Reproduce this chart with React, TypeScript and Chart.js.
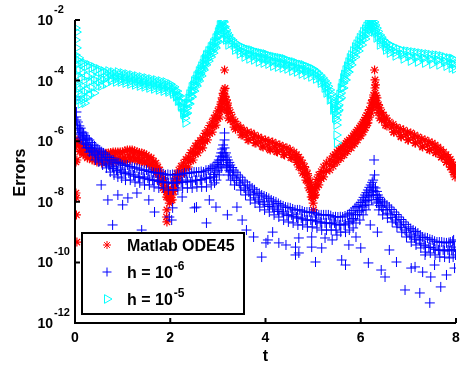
import React, { useEffect, useRef } from "react";
import { Chart, registerables } from "chart.js";

Chart.register(...registerables);

// ---------- data (t, error) ----------
const odePoints: [number, number][] = [
  [0.02, 1.1e-6], [0.03, 7.5e-7], [0.04, 2.4e-7], [0.02, 2.06e-7], [0.02, 1.95e-8], [0.03, 1.34e-8], [0.03, 3.7e-9], [0.04, 4.7e-10],
  [0.06, 1.1e-6], [0.09, 7.5e-7], [0.12, 5.1e-7],
  [0.12, 8.7e-7], [0.15, 6.0e-7], [0.18, 4.1e-7],
  [0.20, 6.0e-7], [0.23, 4.1e-7], [0.26, 2.8e-7],
  [0.30, 5.1e-7], [0.33, 3.5e-7], [0.36, 2.4e-7],
  [0.40, 4.4e-7], [0.43, 3.0e-7], [0.46, 2.06e-7],
  [0.50, 4.1e-7], [0.53, 2.8e-7], [0.56, 1.91e-7],
  [0.60, 4.1e-7], [0.63, 2.8e-7], [0.66, 1.91e-7],
  [0.70, 4.1e-7], [0.73, 2.8e-7], [0.76, 1.91e-7],
  [0.80, 4.4e-7], [0.83, 3.0e-7], [0.86, 2.06e-7],
  [0.90, 4.4e-7], [0.93, 3.0e-7], [0.96, 2.06e-7],
  [1.00, 4.4e-7], [1.03, 3.0e-7], [1.06, 2.06e-7],
  [1.10, 5.1e-7], [1.13, 3.5e-7], [1.16, 2.4e-7],
  [1.20, 5.1e-7], [1.23, 3.5e-7], [1.26, 2.4e-7],
  [1.30, 4.4e-7], [1.33, 3.0e-7], [1.36, 2.06e-7],
  [1.40, 4.1e-7], [1.43, 2.8e-7], [1.46, 1.91e-7],
  [1.50, 3.5e-7], [1.53, 2.4e-7], [1.56, 1.64e-7],
  [1.60, 2.8e-7], [1.63, 1.91e-7], [1.66, 1.31e-7],
  [1.70, 1.91e-7], [1.72, 1.31e-7], [1.74, 8.9e-8],
  [1.78, 1.12e-7], [1.78, 7.7e-8], [1.78, 5.2e-8],
  [1.85, 6.1e-8], [1.85, 4.2e-8], [1.85, 2.86e-8],
  [1.92, 3.1e-8], [1.92, 2.1e-8], [1.92, 1.44e-8],
  [1.98, 1.95e-8], [1.98, 1.34e-8], [1.98, 9.1e-9],
  [1.93, 5.4e-9], [1.92, 3.15e-9], [1.93, 2.16e-9],
  [2.04, 2.45e-8], [2.04, 1.68e-8], [2.04, 1.15e-8],
  [2.10, 6.1e-8], [2.10, 4.2e-8], [2.10, 2.86e-8],
  [2.18, 1.12e-7], [2.18, 7.7e-8], [2.18, 5.2e-8],
  [2.28, 1.91e-7], [2.28, 1.31e-7], [2.28, 8.9e-8],
  [2.38, 3.0e-7], [2.38, 2.06e-7], [2.38, 1.41e-7],
  [2.48, 5.1e-7], [2.48, 3.5e-7], [2.48, 2.4e-7],
  [2.58, 8.7e-7], [2.58, 6.0e-7], [2.58, 4.1e-7],
  [2.68, 1.28e-6], [2.68, 8.7e-7], [2.68, 6.0e-7],
  [2.78, 2.34e-6], [2.78, 1.6e-6], [2.78, 1.1e-6],
  [2.88, 4.3e-6], [2.88, 2.9e-6], [2.88, 2.0e-6],
  [2.96, 7.3e-6], [2.96, 5.0e-6], [2.96, 3.4e-6],
  [3.04, 1.35e-5], [3.04, 9.2e-6], [3.04, 6.3e-6],
  [3.09, 2.7e-5], [3.09, 1.8e-5], [3.09, 1.25e-5],
  [3.13, 4.9e-5], [3.13, 3.35e-5], [3.13, 2.3e-5],
  [3.14, 2.24e-4],
  [3.18, 2.3e-5], [3.18, 1.57e-5], [3.18, 1.07e-5],
  [3.22, 1.25e-5], [3.22, 8.5e-6], [3.22, 5.8e-6],
  [3.30, 6.3e-6], [3.32, 4.3e-6], [3.34, 2.9e-6],
  [3.42, 3.4e-6], [3.47, 2.34e-6], [3.52, 1.6e-6],
  [3.55, 2.34e-6], [3.60, 1.6e-6], [3.65, 1.1e-6],
  [3.70, 1.87e-6], [3.75, 1.28e-6], [3.80, 8.7e-7],
  [3.85, 1.38e-6], [3.90, 9.4e-7], [3.95, 6.4e-7],
  [4.00, 1.1e-6], [4.05, 7.5e-7], [4.10, 5.1e-7],
  [4.15, 9.4e-7], [4.20, 6.4e-7], [4.25, 4.4e-7],
  [4.30, 7.5e-7], [4.35, 5.1e-7], [4.40, 3.5e-7],
  [4.45, 6.0e-7], [4.50, 4.1e-7], [4.55, 2.8e-7],
  [4.60, 4.4e-7], [4.63, 3.0e-7], [4.66, 2.06e-7],
  [4.70, 3.0e-7], [4.70, 2.06e-7], [4.70, 1.41e-7],
  [4.78, 1.91e-7], [4.78, 1.31e-7], [4.78, 8.9e-8],
  [4.85, 1.12e-7], [4.85, 7.7e-8], [4.85, 5.2e-8],
  [4.91, 6.1e-8], [4.91, 4.2e-8], [4.91, 2.86e-8],
  [4.96, 3.1e-8], [4.96, 2.1e-8], [4.96, 1.44e-8],
  [5.00, 1.95e-8], [5.00, 1.34e-8], [5.00, 9.1e-9],
  [5.01, 5.4e-9],
  [5.05, 3.6e-8], [5.05, 2.45e-8], [5.05, 1.68e-8],
  [5.12, 7.7e-8], [5.12, 5.2e-8], [5.12, 3.6e-8],
  [5.22, 1.41e-7], [5.22, 9.6e-8], [5.22, 6.6e-8],
  [5.35, 2.4e-7], [5.35, 1.64e-7], [5.35, 1.12e-7],
  [5.42, 3.2e-7], [5.42, 2.2e-7], [5.42, 1.5e-7],
  [5.50, 4.4e-7], [5.50, 3.0e-7], [5.50, 2.06e-7],
  [5.58, 5.8e-7], [5.58, 4.0e-7], [5.58, 2.7e-7],
  [5.65, 7.5e-7], [5.65, 5.1e-7], [5.65, 3.5e-7],
  [5.72, 9.8e-7], [5.72, 6.7e-7], [5.72, 4.6e-7],
  [5.80, 1.28e-6], [5.80, 8.7e-7], [5.80, 6.0e-7],
  [5.87, 1.75e-6], [5.87, 1.2e-6], [5.87, 8.2e-7],
  [5.93, 2.34e-6], [5.93, 1.6e-6], [5.93, 1.1e-6],
  [6.00, 3.2e-6], [6.00, 2.2e-6], [6.00, 1.5e-6],
  [6.05, 4.3e-6], [6.05, 2.9e-6], [6.05, 2.0e-6],
  [6.10, 6.0e-6], [6.10, 4.1e-6], [6.10, 2.8e-6],
  [6.15, 8.5e-6], [6.15, 5.8e-6], [6.15, 4.0e-6],
  [6.22, 1.8e-5], [6.22, 1.25e-5], [6.22, 8.5e-6],
  [6.27, 3.35e-5], [6.27, 2.3e-5], [6.27, 1.57e-5],
  [6.30, 5.7e-5], [6.30, 3.9e-5], [6.30, 2.7e-5],
  [6.29, 2.24e-4], [6.30, 1.05e-4], [6.31, 7.2e-5],
  [6.34, 2.7e-5], [6.34, 1.8e-5], [6.34, 1.25e-5],
  [6.40, 1.25e-5], [6.40, 8.5e-6], [6.40, 5.8e-6],
  [6.48, 7.3e-6], [6.50, 5.0e-6], [6.52, 3.4e-6],
  [6.60, 4.3e-6], [6.65, 2.9e-6], [6.70, 2.0e-6],
  [6.75, 2.9e-6], [6.80, 2.0e-6], [6.85, 1.38e-6],
  [6.90, 2.34e-6], [6.95, 1.6e-6], [7.00, 1.1e-6],
  [7.05, 1.87e-6], [7.10, 1.28e-6], [7.15, 8.7e-7],
  [7.20, 1.38e-6], [7.25, 9.4e-7], [7.30, 6.4e-7],
  [7.35, 1.1e-6], [7.40, 7.5e-7], [7.45, 5.1e-7],
  [7.50, 8.7e-7], [7.54, 6.0e-7], [7.58, 4.1e-7],
  [7.62, 6.4e-7], [7.66, 4.4e-7], [7.70, 3.0e-7],
  [7.74, 4.4e-7], [7.77, 3.0e-7], [7.80, 2.06e-7],
  [7.84, 3.0e-7], [7.86, 2.06e-7], [7.88, 1.41e-7],
  [7.90, 2.06e-7], [7.92, 1.41e-7], [7.94, 9.6e-8],
  [7.96, 1.41e-7], [7.97, 9.6e-8], [7.98, 6.6e-8],
  // in-between readings of the dense band
  [0.09, 8.0e-7], [0.10, 4.5e-7], [0.16, 6.5e-7], [0.17, 3.6e-7], [0.25, 5.5e-7], [0.26, 3.0e-7],
  [0.35, 4.8e-7], [0.36, 2.6e-7], [0.45, 4.2e-7], [0.46, 2.3e-7], [0.55, 4.0e-7], [0.56, 2.2e-7],
  [0.65, 4.0e-7], [0.66, 2.2e-7], [0.75, 4.2e-7], [0.76, 2.3e-7], [0.85, 4.4e-7], [0.86, 2.4e-7],
  [0.95, 4.4e-7], [0.96, 2.4e-7], [1.05, 4.8e-7], [1.06, 2.6e-7], [1.15, 5.1e-7], [1.16, 2.8e-7],
  [1.25, 4.8e-7], [1.26, 2.6e-7], [1.35, 4.2e-7], [1.36, 2.3e-7], [1.45, 3.8e-7], [1.46, 2.1e-7],
  [1.55, 3.0e-7], [1.56, 1.7e-7], [1.65, 2.2e-7], [1.66, 1.2e-7], [1.74, 1.4e-7], [1.75, 8.0e-8],
  [1.82, 8.0e-8], [1.82, 4.5e-8], [1.88, 4.5e-8], [1.88, 2.5e-8], [1.95, 2.4e-8], [1.95, 1.4e-8],
  [2.01, 2.0e-8], [2.01, 1.1e-8], [2.07, 4.0e-8], [2.07, 2.2e-8], [2.14, 8.5e-8], [2.14, 4.8e-8],
  [2.23, 1.5e-7], [2.23, 8.5e-8], [2.33, 2.5e-7], [2.33, 1.4e-7], [2.43, 4.2e-7], [2.43, 2.3e-7],
  [2.53, 7.0e-7], [2.53, 3.8e-7], [2.63, 1.05e-6], [2.63, 5.8e-7], [2.73, 1.8e-6], [2.73, 1.0e-6],
  [2.83, 3.3e-6], [2.83, 1.8e-6], [2.92, 5.8e-6], [2.92, 3.2e-6], [3.00, 1.0e-5], [3.00, 5.6e-6],
  [3.07, 2.0e-5], [3.07, 1.1e-5], [3.11, 3.8e-5], [3.11, 2.1e-5], [3.15, 5.5e-5], [3.15, 3.0e-5],
  [3.20, 1.8e-5], [3.20, 1.0e-5], [3.26, 9.0e-6], [3.26, 5.0e-6], [3.36, 4.5e-6], [3.37, 2.5e-6],
  [3.48, 2.8e-6], [3.49, 1.6e-6], [3.62, 2.0e-6], [3.63, 1.1e-6], [3.77, 1.6e-6], [3.78, 8.8e-7],
  [3.92, 1.2e-6], [3.93, 6.8e-7], [4.07, 1.0e-6], [4.08, 5.6e-7], [4.22, 8.2e-7], [4.23, 4.6e-7],
  [4.37, 6.6e-7], [4.38, 3.7e-7], [4.52, 5.2e-7], [4.53, 2.9e-7], [4.65, 3.6e-7], [4.66, 2.0e-7],
  [4.74, 2.4e-7], [4.74, 1.35e-7], [4.82, 1.45e-7], [4.82, 8.0e-8], [4.88, 8.5e-8], [4.88, 4.8e-8],
  [4.94, 4.5e-8], [4.94, 2.5e-8], [4.98, 2.6e-8], [4.98, 1.45e-8], [5.03, 2.8e-8], [5.03, 1.6e-8],
  [5.08, 5.5e-8], [5.08, 3.1e-8], [5.17, 1.0e-7], [5.17, 5.8e-8], [5.28, 1.9e-7], [5.28, 1.05e-7],
  [5.46, 3.6e-7], [5.46, 2.0e-7], [5.54, 5.0e-7], [5.54, 2.8e-7], [5.61, 6.5e-7], [5.61, 3.6e-7],
  [5.69, 8.5e-7], [5.69, 4.8e-7], [5.76, 1.1e-6], [5.76, 6.2e-7], [5.84, 1.5e-6], [5.84, 8.5e-7],
  [5.90, 2.0e-6], [5.90, 1.1e-6], [5.97, 2.7e-6], [5.97, 1.5e-6], [6.03, 3.7e-6], [6.03, 2.1e-6],
  [6.08, 5.0e-6], [6.08, 2.8e-6], [6.13, 7.0e-6], [6.13, 3.9e-6], [6.18, 1.1e-5], [6.18, 6.2e-6],
  [6.25, 2.3e-5], [6.25, 1.3e-5], [6.32, 3.2e-5], [6.32, 1.8e-5], [6.37, 1.6e-5], [6.37, 9.0e-6],
  [6.44, 9.0e-6], [6.44, 5.0e-6], [6.54, 5.8e-6], [6.55, 3.2e-6], [6.68, 3.6e-6], [6.69, 2.0e-6],
  [6.83, 2.6e-6], [6.84, 1.45e-6], [6.98, 2.0e-6], [6.99, 1.1e-6], [7.13, 1.6e-6], [7.14, 8.8e-7],
  [7.28, 1.2e-6], [7.29, 6.8e-7], [7.43, 9.5e-7], [7.44, 5.3e-7], [7.56, 7.5e-7], [7.57, 4.2e-7],
  [7.68, 5.3e-7], [7.69, 3.0e-7], [7.79, 3.6e-7], [7.80, 2.0e-7], [7.88, 2.5e-7], [7.89, 1.4e-7],
  [7.95, 1.7e-7], [7.96, 9.5e-8],
];

const h6Points: [number, number][] = [
  [0.01, 2.9e-5], [0.01, 2.3e-5], [0.03, 9.2e-6], [0.02, 6.3e-6], [0.03, 5.0e-6], [0.01, 3.4e-6], [0.05, 2.7e-6], [0.08, 1.87e-6],
  [0.06, 4.3e-6], [0.09, 2.34e-6], [0.12, 1.28e-6],
  [0.12, 2.7e-6], [0.15, 1.49e-6], [0.18, 8.7e-7],
  [0.18, 1.87e-6], [0.21, 1.1e-6], [0.24, 6.0e-7],
  [0.24, 1.28e-6], [0.27, 7.5e-7], [0.30, 4.4e-7],
  [0.30, 1.1e-6], [0.33, 6.0e-7], [0.36, 3.5e-7],
  [0.37, 7.5e-7], [0.40, 4.4e-7], [0.43, 2.4e-7],
  [0.44, 6.0e-7], [0.47, 3.5e-7], [0.50, 2.06e-7],
  [0.52, 5.1e-7], [0.55, 2.8e-7], [0.58, 1.64e-7],
  [0.60, 4.1e-7], [0.63, 2.4e-7], [0.66, 1.31e-7],
  [0.68, 3.0e-7], [0.71, 1.64e-7], [0.74, 9.6e-8],
  [0.76, 2.4e-7], [0.79, 1.41e-7], [0.82, 7.7e-8],
  [0.84, 2.06e-7], [0.87, 1.12e-7], [0.90, 6.6e-8],
  [0.92, 1.91e-7], [0.95, 1.12e-7], [0.98, 6.1e-8],
  [1.00, 1.64e-7], [1.03, 9.6e-8], [1.06, 5.2e-8],
  [1.10, 1.64e-7], [1.13, 8.9e-8], [1.16, 5.2e-8],
  [1.20, 1.41e-7], [1.23, 7.7e-8], [1.26, 4.5e-8],
  [1.30, 1.31e-7], [1.33, 6.6e-8], [1.36, 4.2e-8],
  [1.40, 1.12e-7], [1.43, 6.6e-8], [1.46, 3.6e-8],
  [1.50, 1.12e-7], [1.53, 6.1e-8], [1.56, 3.6e-8],
  [1.60, 9.6e-8], [1.63, 5.2e-8], [1.66, 3.1e-8],
  [1.70, 8.9e-8], [1.73, 5.2e-8], [1.76, 2.86e-8],
  [1.80, 8.9e-8], [1.83, 4.5e-8], [1.86, 2.86e-8],
  [1.90, 7.7e-8], [1.93, 4.5e-8], [1.96, 2.45e-8],
  [2.00, 7.7e-8], [2.03, 4.2e-8], [2.06, 2.45e-8],
  [2.10, 7.7e-8], [2.13, 4.5e-8], [2.16, 2.45e-8],
  [2.20, 7.7e-8], [2.23, 4.5e-8], [2.26, 2.86e-8],
  [2.30, 8.9e-8], [2.33, 5.2e-8], [2.36, 2.86e-8],
  [2.40, 8.9e-8], [2.43, 4.5e-8], [2.46, 2.86e-8],
  [2.50, 9.6e-8], [2.53, 5.2e-8], [2.56, 3.1e-8],
  [2.60, 9.6e-8], [2.63, 5.2e-8], [2.66, 3.1e-8],
  [2.70, 9.6e-8], [2.73, 6.1e-8], [2.76, 3.1e-8],
  [2.80, 1.12e-7], [2.83, 6.1e-8], [2.86, 3.6e-8],
  [2.88, 1.31e-7], [2.91, 6.6e-8], [2.93, 4.2e-8],
  [2.96, 1.64e-7], [2.96, 9.6e-8], [2.97, 5.2e-8],
  [3.02, 2.4e-7], [3.02, 1.41e-7], [3.03, 7.7e-8],
  [3.07, 4.1e-7], [3.07, 2.4e-7], [3.08, 1.31e-7],
  [3.11, 7.5e-7], [3.11, 4.1e-7], [3.12, 2.4e-7],
  [3.14, 1.1e-6], [3.14, 6.0e-7], [3.15, 3.5e-7], [3.14, 1.87e-6],
  [3.17, 4.1e-7], [3.17, 2.4e-7], [3.18, 1.41e-7],
  [3.21, 2.4e-7], [3.21, 1.41e-7], [3.22, 7.7e-8],
  [3.26, 1.64e-7], [3.26, 9.6e-8], [3.27, 5.2e-8],
  [3.33, 1.12e-7], [3.34, 6.1e-8], [3.35, 3.6e-8],
  [3.42, 7.7e-8], [3.45, 4.2e-8], [3.48, 2.45e-8],
  [3.52, 5.2e-8], [3.55, 2.86e-8], [3.58, 1.68e-8],
  [3.62, 3.6e-8], [3.65, 2.1e-8], [3.68, 1.15e-8],
  [3.72, 2.86e-8], [3.75, 1.68e-8], [3.78, 9.1e-9],
  [3.82, 2.1e-8], [3.85, 1.15e-8], [3.88, 6.7e-9],
  [3.92, 1.68e-8], [3.95, 9.9e-9], [3.98, 5.4e-9],
  [4.02, 1.44e-8], [4.05, 7.9e-9], [4.08, 4.6e-9],
  [4.12, 1.15e-8], [4.15, 6.7e-9], [4.18, 3.7e-9],
  [4.22, 9.9e-9], [4.25, 5.4e-9], [4.28, 3.15e-9],
  [4.32, 7.9e-9], [4.35, 4.6e-9], [4.38, 2.5e-9],
  [4.42, 6.7e-9], [4.45, 3.7e-9], [4.48, 2.16e-9],
  [4.52, 6.3e-9], [4.55, 3.7e-9], [4.58, 2.0e-9],
  [4.62, 5.4e-9], [4.65, 3.15e-9], [4.68, 1.72e-9],
  [4.72, 5.4e-9], [4.75, 2.9e-9], [4.78, 1.72e-9],
  [4.82, 4.6e-9], [4.85, 2.5e-9], [4.88, 1.48e-9],
  [4.92, 4.6e-9], [4.95, 2.5e-9], [4.98, 1.48e-9],
  [5.02, 4.3e-9], [5.05, 2.5e-9], [5.08, 1.37e-9],
  [5.12, 3.7e-9], [5.15, 2.16e-9], [5.18, 1.17e-9],
  [5.22, 3.7e-9], [5.25, 2.0e-9], [5.28, 1.17e-9],
  [5.32, 3.7e-9], [5.35, 2.0e-9], [5.38, 1.17e-9],
  [5.42, 3.15e-9], [5.45, 2.0e-9], [5.48, 1.17e-9],
  [5.52, 3.15e-9], [5.55, 1.72e-9], [5.58, 1.0e-9],
  [5.62, 3.15e-9], [5.65, 1.72e-9], [5.68, 1.0e-9],
  [5.72, 3.7e-9], [5.74, 2.0e-9], [5.76, 1.17e-9],
  [5.80, 4.3e-9], [5.82, 2.5e-9], [5.84, 1.37e-9],
  [5.88, 6.3e-9], [5.89, 3.7e-9], [5.90, 2.0e-9],
  [5.96, 7.9e-9], [5.97, 4.6e-9], [5.98, 2.5e-9],
  [6.03, 1.15e-8], [6.04, 6.7e-9], [6.05, 3.7e-9],
  [6.09, 1.68e-8], [6.10, 9.9e-9], [6.11, 5.4e-9],
  [6.15, 2.45e-8], [6.16, 1.44e-8], [6.17, 7.9e-9],
  [6.21, 3.6e-8], [6.22, 2.1e-8], [6.23, 1.15e-8],
  [6.26, 5.2e-8], [6.27, 3.1e-8], [6.27, 1.68e-8],
  [6.28, 2.4e-7], [6.29, 7.7e-8],
  [6.31, 2.86e-8], [6.32, 1.68e-8], [6.33, 9.1e-9],
  [6.36, 1.68e-8], [6.37, 9.9e-9], [6.38, 5.4e-9],
  [6.42, 1.15e-8], [6.44, 6.7e-9], [6.46, 3.7e-9],
  [6.50, 9.1e-9], [6.53, 5.4e-9], [6.56, 2.9e-9],
  [6.60, 6.7e-9], [6.63, 3.7e-9], [6.66, 2.16e-9],
  [6.70, 4.6e-9], [6.73, 2.5e-9], [6.76, 1.48e-9],
  [6.80, 3.15e-9], [6.83, 1.72e-9], [6.86, 1.0e-9],
  [6.90, 2.16e-9], [6.93, 1.17e-9], [6.96, 6.9e-10],
  [7.00, 1.48e-9], [7.03, 8.0e-10], [7.06, 4.7e-10],
  [7.10, 1.17e-9], [7.13, 6.4e-10], [7.16, 3.76e-10],
  [7.20, 9.35e-10], [7.23, 5.5e-10], [7.26, 3.0e-10],
  [7.30, 6.9e-10], [7.33, 3.76e-10], [7.36, 2.2e-10],
  [7.40, 6.4e-10], [7.43, 3.2e-10], [7.46, 2.05e-10],
  [7.50, 5.5e-10], [7.53, 3.0e-10], [7.56, 1.76e-10],
  [7.60, 4.7e-10], [7.63, 2.57e-10], [7.66, 1.5e-10],
  [7.70, 4.7e-10], [7.73, 2.57e-10], [7.76, 1.5e-10],
  [7.80, 4.4e-10], [7.83, 2.57e-10], [7.86, 1.4e-10],
  [7.88, 4.7e-10], [7.91, 2.57e-10], [7.94, 1.5e-10],
  [7.95, 5.5e-10], [7.97, 3.2e-10], [7.99, 1.76e-10],
  // in-between readings of the band
  [0.09, 3.2e-6], [0.10, 1.7e-6], [0.15, 2.0e-6], [0.16, 1.1e-6], [0.21, 1.5e-6], [0.22, 8.0e-7],
  [0.27, 1.2e-6], [0.28, 6.2e-7], [0.34, 9.0e-7], [0.35, 4.8e-7], [0.41, 7.0e-7], [0.42, 3.8e-7],
  [0.48, 5.6e-7], [0.49, 3.0e-7], [0.56, 4.5e-7], [0.57, 2.4e-7], [0.64, 3.6e-7], [0.65, 1.9e-7],
  [0.72, 2.9e-7], [0.73, 1.5e-7], [0.80, 2.4e-7], [0.81, 1.25e-7], [0.88, 2.0e-7], [0.89, 1.05e-7],
  [0.96, 1.8e-7], [0.97, 9.5e-8], [1.05, 1.6e-7], [1.06, 8.5e-8], [1.15, 1.45e-7], [1.16, 7.8e-8],
  [1.25, 1.3e-7], [1.26, 7.0e-8], [1.35, 1.2e-7], [1.36, 6.4e-8], [1.45, 1.1e-7], [1.46, 5.8e-8],
  [1.55, 1.0e-7], [1.56, 5.4e-8], [1.65, 9.2e-8], [1.66, 5.0e-8], [1.75, 8.8e-8], [1.76, 4.7e-8],
  [1.85, 8.4e-8], [1.86, 4.4e-8], [1.95, 8.0e-8], [1.96, 4.2e-8], [2.05, 8.0e-8], [2.06, 4.2e-8],
  [2.15, 8.0e-8], [2.16, 4.2e-8], [2.25, 8.3e-8], [2.26, 4.4e-8], [2.35, 8.6e-8], [2.36, 4.6e-8],
  [2.45, 9.0e-8], [2.46, 4.8e-8], [2.55, 9.5e-8], [2.56, 5.0e-8], [2.65, 1.0e-7], [2.66, 5.4e-8],
  [2.75, 1.1e-7], [2.76, 5.8e-8], [2.84, 1.25e-7], [2.85, 6.5e-8], [2.92, 1.5e-7], [2.93, 8.0e-8],
  [2.99, 2.0e-7], [3.00, 1.1e-7], [3.05, 3.2e-7], [3.05, 1.7e-7], [3.09, 5.5e-7], [3.09, 3.0e-7],
  [3.19, 3.0e-7], [3.19, 1.6e-7], [3.24, 2.0e-7], [3.24, 1.1e-7], [3.30, 1.35e-7], [3.31, 7.2e-8],
  [3.38, 9.5e-8], [3.39, 5.0e-8], [3.47, 6.5e-8], [3.48, 3.5e-8], [3.57, 4.5e-8], [3.58, 2.4e-8],
  [3.67, 3.3e-8], [3.68, 1.8e-8], [3.77, 2.5e-8], [3.78, 1.35e-8], [3.87, 1.9e-8], [3.88, 1.0e-8],
  [3.97, 1.55e-8], [3.98, 8.3e-9], [4.07, 1.3e-8], [4.08, 7.0e-9], [4.17, 1.05e-8], [4.18, 5.8e-9],
  [4.27, 8.8e-9], [4.28, 4.8e-9], [4.37, 7.3e-9], [4.38, 4.0e-9], [4.47, 6.5e-9], [4.48, 3.5e-9],
  [4.57, 5.8e-9], [4.58, 3.2e-9], [4.67, 5.4e-9], [4.68, 2.9e-9], [4.77, 5.0e-9], [4.78, 2.7e-9],
  [4.87, 4.6e-9], [4.88, 2.5e-9], [4.97, 4.4e-9], [4.98, 2.4e-9], [5.07, 4.0e-9], [5.08, 2.2e-9],
  [5.17, 3.7e-9], [5.18, 2.0e-9], [5.27, 3.7e-9], [5.28, 2.0e-9], [5.37, 3.5e-9], [5.38, 1.9e-9],
  [5.47, 3.2e-9], [5.48, 1.75e-9], [5.57, 3.2e-9], [5.58, 1.75e-9], [5.67, 3.4e-9], [5.68, 1.85e-9],
  [5.76, 4.0e-9], [5.77, 2.2e-9], [5.84, 5.2e-9], [5.85, 2.8e-9], [5.92, 7.0e-9], [5.93, 3.8e-9],
  [6.00, 9.5e-9], [6.01, 5.2e-9], [6.06, 1.4e-8], [6.07, 7.5e-9], [6.12, 2.0e-8], [6.13, 1.1e-8],
  [6.18, 3.0e-8], [6.19, 1.6e-8], [6.24, 4.4e-8], [6.25, 2.4e-8], [6.34, 2.2e-8], [6.35, 1.2e-8],
  [6.39, 1.4e-8], [6.40, 7.5e-9], [6.46, 1.0e-8], [6.47, 5.5e-9], [6.55, 7.8e-9], [6.56, 4.2e-9],
  [6.65, 5.6e-9], [6.66, 3.0e-9], [6.75, 3.8e-9], [6.76, 2.0e-9], [6.85, 2.6e-9], [6.86, 1.4e-9],
  [6.95, 1.8e-9], [6.96, 9.5e-10], [7.05, 1.3e-9], [7.06, 7.0e-10], [7.15, 1.05e-9], [7.16, 5.6e-10],
  [7.25, 8.0e-10], [7.26, 4.3e-10], [7.35, 6.6e-10], [7.36, 3.5e-10], [7.45, 5.8e-10], [7.46, 3.1e-10],
  [7.55, 5.0e-10], [7.56, 2.7e-10], [7.65, 4.7e-10], [7.66, 2.5e-10], [7.75, 4.5e-10], [7.76, 2.4e-10],
  [7.85, 4.5e-10], [7.86, 2.4e-10], [7.93, 5.0e-10], [7.94, 2.7e-10],
  // scattered low points
  [0.79, 1.72e-9], [1.40, 1.17e-9], [1.00, 7.9e-9], [1.11, 1.34e-8], [0.90, 1.68e-8], [1.67, 4.6e-9],
  [1.98, 3.15e-9], [2.05, 6.3e-9], [2.51, 6.3e-9], [2.03, 2.5e-9], [0.69, 1.15e-8], [1.30, 1.95e-8],
  [1.55, 1.15e-8], [2.25, 1.44e-8], [0.55, 3.6e-8], [2.55, 6.7e-9], [2.82, 1.15e-8], [2.96, 6.7e-9],
  [3.51, 2.5e-9], [2.76, 2.0e-9], [4.01, 4.4e-10], [4.28, 4.4e-10], [4.63, 3.2e-10], [4.97, 6.9e-10],
  [3.92, 1.5e-10], [4.70, 2.05e-10], [4.05, 5.5e-10], [4.43, 3.76e-10], [4.63, 1.76e-10], [4.97, 3.2e-10],
  [5.05, 1.03e-10], [5.18, 3.0e-10], [5.60, 1.2e-10], [5.68, 8.2e-11], [6.16, 9.6e-11], [6.51, 3.3e-11],
  [6.43, 5.6e-11], [6.93, 1.23e-11], [7.24, 9.8e-12], [7.45, 4.6e-12], [7.68, 1.55e-11], [7.47, 3.3e-11],
  [7.14, 7.1e-11], [7.97, 6.5e-11], [7.06, 6.5e-11], [4.70, 6.4e-10], [5.40, 5.5e-10], [5.75, 3.76e-10],
  [5.90, 6.9e-10], [6.60, 2.57e-10], [6.75, 1.03e-10], [7.30, 4.8e-11], [7.80, 3.85e-11], [7.55, 8.2e-11],
  [3.60, 1.17e-9], [3.75, 6.9e-10], [4.15, 1.0e-9], [5.25, 6.4e-10], [5.50, 8.0e-10], [3.20, 3.7e-9],
  [3.40, 6.7e-9], [6.20, 1.72e-9], [6.00, 3.0e-10], [6.35, 1.0e-9], [7.35, 1.76e-10],
];

const h5Points: [number, number][] = [
  [0.01, 5.4e-3], [0.01, 2.2e-3], [0.01, 7.0e-4],
  [0.03, 4.0e-3], [0.03, 1.2e-3], [0.03, 3.3e-4], [0.03, 7.2e-5],
  [0.05, 4.8e-4], [0.05, 1.53e-4], [0.05, 4.2e-5],
  [0.08, 5.6e-4], [0.08, 2.24e-4], [0.08, 5.7e-5], [0.08, 2.3e-5],
  [0.12, 4.1e-4], [0.12, 1.22e-4], [0.12, 3.35e-5], [0.12, 1.7e-5],
  [0.16, 3.5e-4], [0.16, 1.92e-4], [0.16, 6.6e-5], [0.16, 2.3e-5],
  [0.20, 3.8e-4], [0.20, 1.05e-4], [0.20, 4.2e-5], [0.20, 1.8e-5],
  [0.25, 3.0e-4], [0.25, 1.42e-4], [0.25, 4.9e-5], [0.25, 2.7e-5],
  [0.30, 3.3e-4], [0.30, 9.0e-5], [0.30, 3.35e-5],
  [0.35, 2.6e-4], [0.35, 1.53e-4], [0.35, 5.7e-5],
  [0.40, 2.8e-4], [0.40, 1.05e-4], [0.40, 3.9e-5],
  [0.45, 2.24e-4], [0.45, 1.22e-4], [0.45, 6.2e-5],
  [0.50, 2.42e-4], [0.50, 9.0e-5],
  [0.55, 1.92e-4], [0.55, 1.13e-4], [0.55, 6.6e-5],
  [0.60, 2.07e-4], [0.60, 1.05e-4],
  [0.65, 1.78e-4], [0.65, 1.22e-4], [0.65, 7.7e-5],
  [0.70, 2.07e-4], [0.73, 1.42e-4], [0.76, 9.7e-5],
  [0.80, 1.92e-4], [0.83, 1.32e-4], [0.86, 9.0e-5],
  [0.90, 1.92e-4], [0.93, 1.32e-4], [0.96, 9.0e-5],
  [1.00, 1.78e-4], [1.03, 1.22e-4], [1.06, 8.3e-5],
  [1.10, 1.65e-4], [1.13, 1.13e-4], [1.16, 7.7e-5],
  [1.20, 1.53e-4], [1.23, 1.05e-4], [1.26, 7.2e-5],
  [1.30, 1.42e-4], [1.33, 9.7e-5], [1.36, 6.6e-5],
  [1.40, 1.32e-4], [1.43, 9.0e-5], [1.46, 6.2e-5],
  [1.50, 1.22e-4], [1.53, 8.3e-5], [1.56, 5.7e-5],
  [1.60, 1.13e-4], [1.63, 7.7e-5], [1.66, 5.3e-5],
  [1.70, 1.05e-4], [1.73, 7.2e-5], [1.76, 4.9e-5],
  [1.80, 9.7e-5], [1.83, 6.6e-5], [1.86, 4.5e-5],
  [1.90, 9.0e-5], [1.93, 6.2e-5], [1.96, 4.2e-5],
  [2.00, 7.7e-5], [2.03, 5.3e-5], [2.06, 3.6e-5],
  [2.08, 6.2e-5], [2.10, 4.2e-5], [2.12, 2.9e-5],
  [2.14, 4.5e-5], [2.15, 3.1e-5], [2.16, 2.1e-5],
  [2.20, 3.1e-5], [2.21, 2.1e-5], [2.22, 1.45e-5],
  [2.25, 1.8e-5], [2.26, 1.25e-5], [2.27, 8.5e-6],
  [2.30, 8.5e-6], [2.31, 5.8e-6], [2.32, 4.0e-6],
  [2.35, 1.8e-5], [2.35, 1.25e-5], [2.35, 8.5e-6],
  [2.40, 3.6e-5], [2.40, 2.5e-5], [2.40, 1.7e-5],
  [2.45, 6.2e-5], [2.45, 4.2e-5], [2.45, 2.9e-5],
  [2.50, 9.7e-5], [2.50, 6.6e-5], [2.50, 4.5e-5],
  [2.55, 1.42e-4], [2.55, 9.7e-5], [2.55, 6.6e-5],
  [2.60, 2.07e-4], [2.60, 1.42e-4], [2.60, 9.7e-5],
  [2.65, 3.0e-4], [2.65, 2.07e-4], [2.65, 1.42e-4],
  [2.70, 4.8e-4], [2.70, 3.3e-4], [2.70, 2.24e-4],
  [2.75, 7.0e-4], [2.75, 4.8e-4], [2.75, 3.3e-4],
  [2.80, 9.5e-4], [2.80, 6.5e-4], [2.80, 4.4e-4],
  [2.85, 1.29e-3], [2.85, 8.8e-4], [2.85, 6.0e-4],
  [2.90, 1.74e-3], [2.90, 1.19e-3], [2.90, 8.1e-4],
  [2.95, 2.55e-3], [2.95, 1.74e-3], [2.95, 1.19e-3],
  [3.00, 4.0e-3], [3.00, 2.75e-3], [3.00, 1.88e-3],
  [3.04, 6.8e-3], [3.04, 4.7e-3], [3.04, 3.2e-3],
  [3.08, 1.0e-2], [3.08, 8.6e-3], [3.08, 5.9e-3],
  [3.12, 8.6e-3], [3.12, 5.9e-3], [3.12, 4.0e-3],
  [3.17, 4.7e-3], [3.17, 3.2e-3], [3.17, 2.2e-3],
  [3.22, 3.2e-3], [3.22, 2.2e-3], [3.22, 1.5e-3],
  [3.30, 2.2e-3], [3.33, 1.5e-3], [3.36, 1.02e-3],
  [3.40, 1.61e-3], [3.43, 1.1e-3], [3.46, 7.55e-4],
  [3.50, 1.29e-3], [3.53, 8.8e-4], [3.56, 6.0e-4],
  [3.60, 1.1e-3], [3.63, 7.55e-4], [3.66, 5.2e-4],
  [3.70, 1.02e-3], [3.73, 7.0e-4], [3.76, 4.8e-4],
  [3.80, 8.8e-4], [3.83, 6.0e-4], [3.86, 4.1e-4],
  [3.90, 8.1e-4], [3.93, 5.6e-4], [3.96, 3.8e-4],
  [4.00, 7.55e-4], [4.03, 5.2e-4], [4.06, 3.5e-4],
  [4.10, 6.5e-4], [4.13, 4.4e-4], [4.16, 3.0e-4],
  [4.20, 6.0e-4], [4.23, 4.1e-4], [4.26, 2.8e-4],
  [4.30, 5.6e-4], [4.33, 3.8e-4], [4.36, 2.6e-4],
  [4.40, 5.2e-4], [4.43, 3.5e-4], [4.46, 2.42e-4],
  [4.50, 4.4e-4], [4.53, 3.0e-4], [4.56, 2.07e-4],
  [4.60, 4.1e-4], [4.63, 2.8e-4], [4.66, 1.92e-4],
  [4.70, 3.5e-4], [4.73, 2.42e-4], [4.76, 1.65e-4],
  [4.80, 3.3e-4], [4.83, 2.24e-4], [4.86, 1.53e-4],
  [4.90, 2.8e-4], [4.93, 1.92e-4], [4.96, 1.32e-4],
  [5.00, 2.42e-4], [5.03, 1.65e-4], [5.06, 1.13e-4],
  [5.10, 1.78e-4], [5.13, 1.22e-4], [5.16, 8.3e-5],
  [5.20, 1.22e-4], [5.22, 8.3e-5], [5.24, 5.7e-5],
  [5.28, 8.3e-5], [5.28, 5.7e-5], [5.28, 3.9e-5],
  [5.35, 4.9e-5], [5.35, 3.35e-5], [5.35, 2.3e-5],
  [5.42, 2.3e-5], [5.42, 1.57e-5], [5.42, 1.07e-5],
  [5.46, 1.25e-5], [5.46, 8.5e-6], [5.46, 5.8e-6],
  [5.49, 7.3e-6], [5.49, 5.0e-6], [5.49, 3.4e-6],
  [5.50, 8.7e-7], [5.49, 1.6e-6],
  [5.53, 2.3e-5], [5.53, 1.57e-5], [5.53, 1.07e-5],
  [5.58, 5.7e-5], [5.58, 3.9e-5], [5.58, 2.7e-5],
  [5.63, 1.22e-4], [5.63, 8.3e-5], [5.63, 5.7e-5],
  [5.68, 2.24e-4], [5.68, 1.53e-4], [5.68, 1.05e-4],
  [5.74, 4.1e-4], [5.74, 2.8e-4], [5.74, 1.92e-4],
  [5.80, 7.0e-4], [5.80, 4.8e-4], [5.80, 3.3e-4],
  [5.88, 1.29e-3], [5.88, 8.8e-4], [5.88, 6.0e-4],
  [5.95, 2.03e-3], [5.95, 1.39e-3], [5.95, 9.5e-4],
  [6.02, 3.2e-3], [6.02, 2.2e-3], [6.02, 1.5e-3],
  [6.09, 5.0e-3], [6.09, 3.45e-3], [6.09, 2.36e-3],
  [6.15, 7.4e-3], [6.15, 5.0e-3], [6.15, 3.45e-3],
  [6.20, 1.0e-2], [6.20, 7.4e-3], [6.20, 5.0e-3],
  [6.24, 1.0e-2], [6.24, 8.0e-3], [6.24, 6.3e-3],
  [6.28, 8.6e-3], [6.28, 5.9e-3], [6.28, 4.0e-3],
  [6.33, 5.4e-3], [6.33, 3.7e-3], [6.33, 2.55e-3],
  [6.40, 3.2e-3], [6.40, 2.2e-3], [6.40, 1.5e-3],
  [6.47, 2.2e-3], [6.50, 1.5e-3], [6.53, 1.02e-3],
  [6.55, 1.74e-3], [6.58, 1.19e-3], [6.61, 8.1e-4],
  [6.65, 1.39e-3], [6.69, 9.5e-4], [6.73, 6.5e-4],
  [6.80, 1.1e-3], [6.85, 7.55e-4], [6.90, 5.2e-4],
  [6.95, 9.5e-4], [7.00, 6.5e-4], [7.05, 4.4e-4],
  [7.10, 8.8e-4], [7.15, 6.0e-4], [7.20, 4.1e-4],
  [7.25, 8.1e-4], [7.30, 5.6e-4], [7.35, 3.8e-4],
  [7.40, 7.55e-4], [7.45, 5.2e-4], [7.50, 3.5e-4],
  [7.55, 7.0e-4], [7.60, 4.8e-4], [7.65, 3.3e-4],
  [7.70, 6.5e-4], [7.75, 4.4e-4], [7.80, 3.0e-4],
  [7.85, 5.6e-4], [7.88, 3.8e-4], [7.91, 2.6e-4],
  [7.94, 5.2e-4], [7.96, 3.5e-4], [7.98, 2.42e-4],
  // in-between readings of the band
  [0.75, 1.7e-4], [0.76, 1.15e-4], [0.85, 1.6e-4], [0.86, 1.1e-4], [0.95, 1.55e-4], [0.96, 1.05e-4],
  [1.05, 1.45e-4], [1.06, 1.0e-4], [1.15, 1.35e-4], [1.16, 9.2e-5], [1.25, 1.25e-4], [1.26, 8.5e-5],
  [1.35, 1.15e-4], [1.36, 7.9e-5], [1.45, 1.08e-4], [1.46, 7.3e-5], [1.55, 1.0e-4], [1.56, 6.8e-5],
  [1.65, 9.2e-5], [1.66, 6.3e-5], [1.75, 8.5e-5], [1.76, 5.8e-5], [1.85, 7.8e-5], [1.86, 5.4e-5],
  [1.95, 7.0e-5], [1.96, 4.8e-5], [2.04, 6.0e-5], [2.05, 4.1e-5], [2.11, 4.6e-5], [2.12, 3.2e-5],
  [2.17, 3.2e-5], [2.18, 2.2e-5], [2.23, 2.0e-5], [2.23, 1.35e-5], [2.28, 1.1e-5], [2.28, 7.5e-6],
  [2.33, 1.2e-5], [2.33, 8.0e-6], [2.38, 2.6e-5], [2.38, 1.8e-5], [2.43, 4.5e-5], [2.43, 3.1e-5],
  [2.48, 7.0e-5], [2.48, 4.8e-5], [2.53, 1.1e-4], [2.53, 7.5e-5], [2.58, 1.6e-4], [2.58, 1.1e-4],
  [2.63, 2.4e-4], [2.63, 1.65e-4], [2.68, 3.6e-4], [2.68, 2.5e-4], [2.73, 5.4e-4], [2.73, 3.7e-4],
  [2.78, 7.5e-4], [2.78, 5.2e-4], [2.83, 1.0e-3], [2.83, 7.0e-4], [2.88, 1.4e-3], [2.88, 9.6e-4],
  [2.93, 1.95e-3], [2.93, 1.35e-3], [2.98, 3.0e-3], [2.98, 2.05e-3], [3.02, 4.8e-3], [3.02, 3.3e-3],
  [3.06, 7.8e-3], [3.06, 5.3e-3], [3.10, 9.5e-3], [3.10, 6.5e-3], [3.14, 6.0e-3], [3.14, 4.1e-3],
  [3.19, 3.8e-3], [3.19, 2.6e-3], [3.26, 2.5e-3], [3.27, 1.7e-3], [3.35, 1.8e-3], [3.36, 1.25e-3],
  [3.45, 1.4e-3], [3.46, 9.8e-4], [3.55, 1.2e-3], [3.56, 8.2e-4], [3.65, 1.05e-3], [3.66, 7.2e-4],
  [3.75, 9.5e-4], [3.76, 6.5e-4], [3.85, 8.5e-4], [3.86, 5.8e-4], [3.95, 7.8e-4], [3.96, 5.4e-4],
  [4.05, 7.0e-4], [4.06, 4.8e-4], [4.15, 6.3e-4], [4.16, 4.3e-4], [4.25, 5.8e-4], [4.26, 4.0e-4],
  [4.35, 5.4e-4], [4.36, 3.7e-4], [4.45, 4.8e-4], [4.46, 3.3e-4], [4.55, 4.2e-4], [4.56, 2.9e-4],
  [4.65, 3.8e-4], [4.66, 2.6e-4], [4.75, 3.4e-4], [4.76, 2.3e-4], [4.85, 3.0e-4], [4.86, 2.05e-4],
  [4.95, 2.6e-4], [4.96, 1.8e-4], [5.05, 2.1e-4], [5.06, 1.45e-4], [5.15, 1.5e-4], [5.16, 1.0e-4],
  [5.24, 1.0e-4], [5.25, 7.0e-5], [5.31, 6.5e-5], [5.31, 4.5e-5], [5.38, 3.6e-5], [5.38, 2.5e-5],
  [5.44, 1.8e-5], [5.44, 1.2e-5], [5.51, 1.4e-5], [5.51, 9.5e-6], [5.55, 3.5e-5], [5.55, 2.4e-5],
  [5.60, 8.0e-5], [5.60, 5.5e-5], [5.65, 1.6e-4], [5.65, 1.1e-4], [5.71, 3.0e-4], [5.71, 2.05e-4],
  [5.77, 5.6e-4], [5.77, 3.8e-4], [5.84, 9.5e-4], [5.84, 6.5e-4], [5.91, 1.6e-3], [5.91, 1.1e-3],
  [5.98, 2.6e-3], [5.98, 1.8e-3], [6.05, 4.1e-3], [6.05, 2.8e-3], [6.12, 6.2e-3], [6.12, 4.2e-3],
  [6.18, 8.8e-3], [6.18, 6.0e-3], [6.22, 9.5e-3], [6.22, 6.8e-3], [6.26, 7.5e-3], [6.26, 5.1e-3],
  [6.30, 6.8e-3], [6.30, 4.6e-3], [6.36, 4.2e-3], [6.36, 2.9e-3], [6.43, 2.7e-3], [6.44, 1.85e-3],
  [6.51, 1.9e-3], [6.52, 1.3e-3], [6.60, 1.55e-3], [6.61, 1.05e-3], [6.72, 1.25e-3], [6.73, 8.5e-4],
  [6.87, 1.0e-3], [6.88, 7.0e-4], [7.02, 9.2e-4], [7.03, 6.3e-4], [7.17, 8.5e-4], [7.18, 5.8e-4],
  [7.32, 7.8e-4], [7.33, 5.4e-4], [7.47, 7.2e-4], [7.48, 5.0e-4], [7.62, 6.8e-4], [7.63, 4.6e-4],
  [7.77, 6.0e-4], [7.78, 4.1e-4], [7.91, 5.4e-4], [7.92, 3.6e-4],
];

const seriesLabels = ["Matlab ODE45", "h = 10", "h = 10"];
const seriesExponents = ["", "-6", "-5"];
const xTickValues = [0, 2, 4, 6, 8];
const yTickValues = [1e-2, 1e-4, 1e-6, 1e-8, 1e-10, 1e-12];
const yTickExponents = ["-2", "-4", "-6", "-8", "-10", "-12"];
const xTitle = "t";
const yTitle = "Errors";

const FONT = '"Liberation Sans", Arial, Helvetica, sans-serif';
const RED = "#ff0000";
const BLUE = "#0000ff";
const CYAN = "#00ffff";

function drawStar(ctx: CanvasRenderingContext2D, x: number, y: number, r: number) {
  const d = r * 0.7071;
  ctx.beginPath();
  ctx.moveTo(x - r, y); ctx.lineTo(x + r, y);
  ctx.moveTo(x, y - r); ctx.lineTo(x, y + r);
  ctx.moveTo(x - d, y - d); ctx.lineTo(x + d, y + d);
  ctx.moveTo(x - d, y + d); ctx.lineTo(x + d, y - d);
  ctx.stroke();
}
function drawPlus(ctx: CanvasRenderingContext2D, x: number, y: number, r: number) {
  ctx.beginPath();
  ctx.moveTo(x - r, y); ctx.lineTo(x + r, y);
  ctx.moveTo(x, y - r); ctx.lineTo(x, y + r);
  ctx.stroke();
}
function drawTri(ctx: CanvasRenderingContext2D, x: number, y: number, r: number) {
  ctx.beginPath();
  ctx.moveTo(x + r, y);
  ctx.lineTo(x - r / 2, y - r * 0.866);
  ctx.lineTo(x - r / 2, y + r * 0.866);
  ctx.closePath();
  ctx.stroke();
}

const matlabAxes = {
  id: "matlabAxes",
  afterDraw(chart: any) {
    const { ctx, chartArea, scales } = chart;
    const { left, right, top, bottom } = chartArea;
    const xs = scales.x;
    const ys = scales.y;
    ctx.save();
    ctx.strokeStyle = "#000";
    ctx.fillStyle = "#000";
    ctx.lineWidth = 2;
    ctx.beginPath();
    ctx.moveTo(left, top);
    ctx.lineTo(left, bottom);
    ctx.lineTo(right, bottom);
    ctx.stroke();
    ctx.beginPath();
    yTickValues.forEach((v) => {
      const py = ys.getPixelForValue(v);
      ctx.moveTo(left, py);
      ctx.lineTo(left + 5, py);
    });
    xTickValues.forEach((v) => {
      const px = xs.getPixelForValue(v);
      ctx.moveTo(px, bottom);
      ctx.lineTo(px, bottom - 5);
    });
    ctx.stroke();

    yTickValues.forEach((v, i) => {
      const py = ys.getPixelForValue(v);
      ctx.font = `bold 14px ${FONT}`;
      ctx.textAlign = "right";
      ctx.textBaseline = "alphabetic";
      ctx.fillText("10", left - 22, py + 5);
      ctx.font = `bold 11px ${FONT}`;
      ctx.textAlign = "left";
      ctx.fillText(yTickExponents[i], left - 21, py - 7);
    });
    ctx.font = `bold 14px ${FONT}`;
    ctx.textAlign = "center";
    ctx.textBaseline = "alphabetic";
    xTickValues.forEach((v) => {
      ctx.fillText(String(v), xs.getPixelForValue(v), bottom + 19);
    });
    ctx.font = `bold 16px ${FONT}`;
    ctx.fillText(xTitle, (left + right) / 2, bottom + 38);
    ctx.save();
    ctx.translate(25, (top + bottom) / 2 + 1);
    ctx.rotate(-Math.PI / 2);
    ctx.textAlign = "center";
    ctx.fillText(yTitle, 0, 0);
    ctx.restore();

    const bx = left + 7, by = 233, bw = 162, bh = 81;
    ctx.fillStyle = "#fff";
    ctx.fillRect(bx, by, bw, bh);
    ctx.strokeStyle = "#000";
    ctx.lineWidth = 2;
    ctx.strokeRect(bx, by, bw, bh);
    const colors = [RED, BLUE, CYAN];
    seriesLabels.forEach((lab, i) => {
      const cy = 245 + i * 27;
      const mx = bx + 25;
      ctx.lineWidth = 1;
      ctx.strokeStyle = colors[i];
      if (i === 0) drawStar(ctx, mx, cy, 4);
      else if (i === 1) drawPlus(ctx, mx, cy, 4.5);
      else drawTri(ctx, mx, cy, 5);
      ctx.fillStyle = "#000";
      ctx.font = `bold 16px ${FONT}`;
      ctx.textAlign = "left";
      ctx.textBaseline = "alphabetic";
      const tx = bx + 45;
      ctx.fillText(lab, tx, cy + 6);
      if (seriesExponents[i]) {
        const w = ctx.measureText(lab).width;
        ctx.font = `bold 12px ${FONT}`;
        ctx.fillText(seriesExponents[i], tx + w + 1, cy - 2);
      }
    });
    ctx.restore();
  },
};

export default function App() {
  const ref = useRef<HTMLCanvasElement | null>(null);
  useEffect(() => {
    const canvas = ref.current;
    if (!canvas) return;
    const toXY = (pts: [number, number][]) => pts.map(([x, y]) => ({ x, y }));
    const chart = new Chart(canvas, {
      type: "scatter",
      data: {
        datasets: [
          {
            label: seriesLabels[0],
            data: toXY(odePoints),
            pointStyle: "star",
            pointRadius: 4.5,
            borderColor: RED,
            backgroundColor: RED,
            borderWidth: 1.2,
            order: 3,
          },
          {
            label: seriesLabels[1] + seriesExponents[1],
            data: toXY(h6Points),
            pointStyle: "cross",
            pointRadius: 5,
            borderColor: BLUE,
            backgroundColor: BLUE,
            borderWidth: 1,
            order: 2,
          },
          {
            label: seriesLabels[2] + seriesExponents[2],
            data: toXY(h5Points),
            pointStyle: "triangle",
            pointRotation: 90,
            pointRadius: 5,
            borderColor: CYAN,
            backgroundColor: "rgba(0,0,0,0)",
            borderWidth: 1,
            order: 1,
          },
        ],
      },
      options: {
        animation: false,
        responsive: false,
        devicePixelRatio: 1,
        layout: { padding: { left: 75, right: 4, top: 20, bottom: 43 } },
        plugins: { legend: { display: false }, tooltip: { enabled: false } },
        events: [],
        scales: {
          x: { type: "linear", min: 0, max: 8, display: false },
          y: { type: "logarithmic", min: 1e-12, max: 1e-2, display: false },
        },
      },
      plugins: [matlabAxes],
    } as any);
    return () => chart.destroy();
  }, []);
  return (
    <div style={{ position: "fixed", left: 0, top: 0, width: 462, height: 366, background: "#fff" }}>
      <canvas ref={ref} width={462} height={366} style={{ display: "block" }} />
    </div>
  );
}
